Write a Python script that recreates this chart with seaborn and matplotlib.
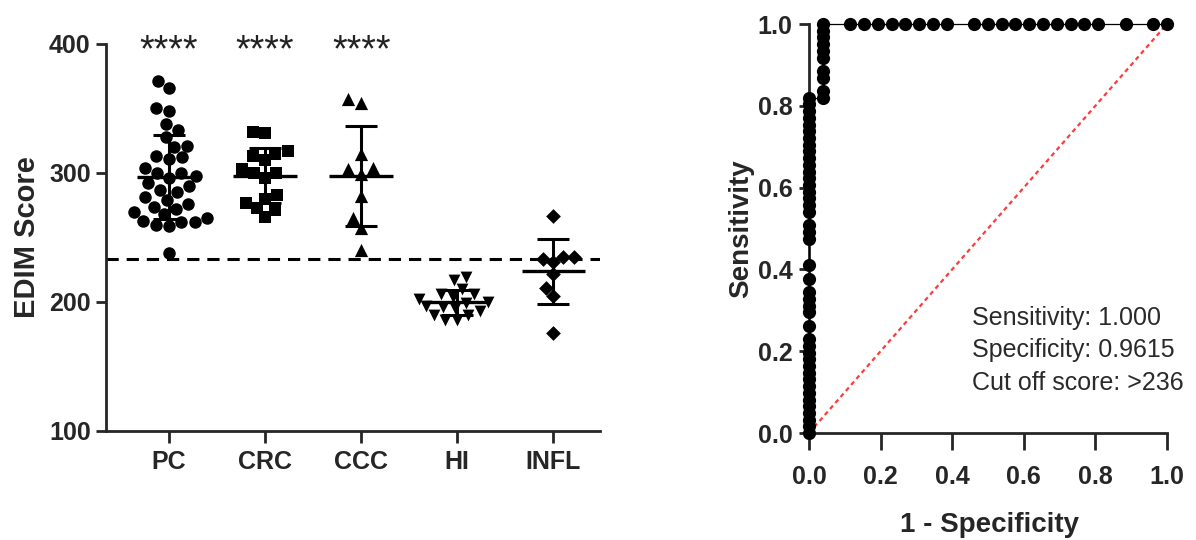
import numpy as np
import pandas as pd
import matplotlib
matplotlib.use("Agg")
import matplotlib.pyplot as plt
import seaborn as sns

# EDIM scores per group
groups = ["PC", "CRC", "CCC", "HI", "INFL"]
pc = [371, 366, 350, 348, 338, 333, 328, 321, 320, 313, 312, 311, 300, 304,
      300, 298, 296, 292, 290, 287, 285, 281, 279, 276, 274, 272, 270, 268,
      265, 263, 262, 262, 260, 259, 238]
crc = [332, 331, 317, 315, 313, 310, 303, 300, 300, 296, 283, 280, 277, 273,
       271, 266]
ccc = [357, 354, 315, 304, 303, 299, 282, 265, 257, 240]
hi = [219, 217, 210, 206, 206, 204, 202, 200, 199, 197, 196, 195, 193, 190,
      190, 186, 186]
infl = [267, 235, 235, 233, 231, 222, 211, 205, 176]
group_scores = [pc, crc, ccc, hi, infl]
group_markers = ["o", "s", "^", "v", "D"]
marker_sizes = [9, 8.5, 9.5, 8.5, 7.5]
significance = ["****", "****", "****", "", ""]
cutoff_line = 233
score_ticks = [100, 200, 300, 400]

roc_ticks = [0.0, 0.2, 0.4, 0.6, 0.8, 1.0]
stats_lines = ["Sensitivity: 1.000", "Specificity: 0.9615", "Cut off score: >236"]

sns.set_theme(style="ticks")
plt.rcParams["font.family"] = ["Liberation Sans", "DejaVu Sans"]
plt.rcParams["axes.linewidth"] = 2.0

fig = plt.figure(figsize=(11.96, 5.4), dpi=100)

# ---------------- scatter of scores ----------------
ax1 = fig.add_axes([0.0886, 0.2019, 0.4134, 0.7167])
df = pd.DataFrame({
    "group": np.repeat(groups, [len(s) for s in group_scores]),
    "score": np.concatenate(group_scores).astype(float),
})
for g, m, sz in zip(groups, group_markers, marker_sizes):
    sns.swarmplot(data=df[df["group"] == g], x="group", y="score", order=groups,
                  marker=m, color="black", size=sz, linewidth=0, ax=ax1,
                  zorder=3, warn_thresh=1.0)

stats = df.groupby("group", sort=False)["score"].agg(["mean", "std"]).reindex(groups)
for i, g in enumerate(groups):
    m, sd = stats.loc[g, "mean"], stats.loc[g, "std"]
    ax1.errorbar(i, m, yerr=sd, color="black", lw=2.2, capsize=11.5,
                 capthick=2.2, zorder=4)
    ax1.hlines(m, i - 0.33, i + 0.33, color="black", lw=2.4, zorder=4)
    if significance[i]:
        ax1.text(i, 394, significance[i], ha="center", va="center",
                 fontsize=27, color="#222222", clip_on=False)

ax1.axhline(cutoff_line, color="black", lw=2.2, ls=(0, (4, 2.6)), zorder=2)
ax1.set_xlim(-0.656, 4.49)
ax1.set_ylim(100, 400)
ax1.set_yticks(score_ticks)
ax1.set_xlabel("")
ax1.set_ylabel("EDIM Score", fontsize=21, fontweight="bold")
ax1.yaxis.set_label_coords(-0.132, 0.5)
sns.despine(ax=ax1)
ax1.tick_params(axis="y", length=7, width=2, pad=4, labelsize=18)
ax1.tick_params(axis="x", length=8.5, width=2, pad=5, labelsize=18)
for lab in ax1.get_xticklabels() + ax1.get_yticklabels():
    lab.set_fontweight("bold")

# ---------------- ROC curve ----------------
ax2 = fig.add_axes([0.6764, 0.1981, 0.2993, 0.7574])
cases = np.concatenate([pc, crc, ccc])
controls = np.concatenate([hi, infl])
levels = np.unique(np.concatenate([cases, controls]))[::-1]
tpr = [0.0] + [np.mean(cases >= v) for v in levels]
fpr = [0.0] + [np.mean(controls >= v) for v in levels]
roc = pd.DataFrame({"fpr": fpr, "tpr": tpr})

ax2.plot([0, 1], [0, 1], color="#ff3b3b", lw=1.6, ls=(0, (2, 1.6)), zorder=1)
sns.lineplot(data=roc, x="fpr", y="tpr", sort=False, estimator=None,
             color="black", lw=0.9, marker="o", markersize=9.5,
             markeredgewidth=0, clip_on=False, ax=ax2, zorder=3)

ax2.set_xlim(0, 1)
ax2.set_ylim(0, 1)
ax2.set_xticks(roc_ticks)
ax2.set_yticks(roc_ticks)
ax2.set_xticklabels([f"{t:.1f}" for t in roc_ticks])
ax2.set_yticklabels([f"{t:.1f}" for t in roc_ticks])
ax2.set_xlabel("1 - Specificity", fontsize=20, fontweight="bold")
ax2.set_ylabel("Sensitivity", fontsize=20, fontweight="bold")
ax2.xaxis.set_label_coords(0.505, -0.192)
ax2.yaxis.set_label_coords(-0.152, 0.5)
sns.despine(ax=ax2)
ax2.tick_params(axis="y", length=7, width=2, pad=5, labelsize=18)
ax2.tick_params(axis="x", length=12, width=2, pad=11, labelsize=18)
for lab in ax2.get_xticklabels() + ax2.get_yticklabels():
    lab.set_fontweight("bold")

for k, line in enumerate(stats_lines):
    ax2.text(0.455, 0.281 - k * 0.079, line, ha="left", va="center",
             fontsize=18, color="#2a2a2a")

fig.savefig("out.png", dpi=100, facecolor="white")
